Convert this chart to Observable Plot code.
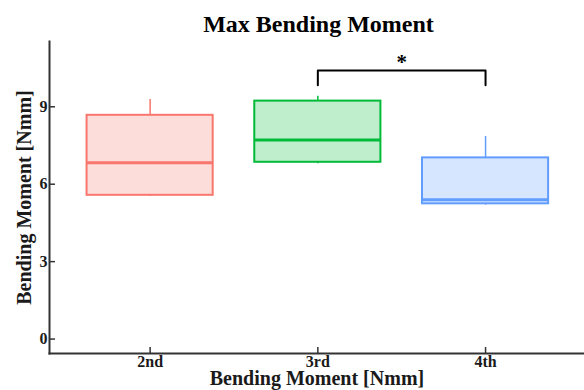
<!DOCTYPE html>
<html>
<head>
<meta charset="utf-8">
<script src="https://cdn.jsdelivr.net/npm/d3@7"></script>
<script src="https://cdn.jsdelivr.net/npm/@observablehq/plot@0.6"></script>
<style>
  html, body { margin: 0; padding: 0; background: #fff; }
  #chart svg { display: block; }
</style>
</head>
<body>
<div id="chart"></div>
<script>
// ---- data ----
const categories = ["2nd", "3rd", "4th"];
const whiskerLow = [5.52, 6.79, 5.19];
const q1 = [5.57, 6.85, 5.24];
const median = [6.83, 7.71, 5.40];
const q3 = [8.67, 9.22, 7.02];
const whiskerHigh = [9.28, 9.41, 7.85];
const colors = ["#F8766D", "#00BA38", "#619CFF"];
const yTicks = [0, 3, 6, 9];
const titleText = "Max Bending Moment";
const xLabel = "Bending Moment [Nmm]";
const yLabel = "Bending Moment [Nmm]";
const sigFrom = "3rd";
const sigTo = "4th";
const sigLabel = "*";
const bracketTop = 10.41;
const bracketLeg = 9.83;
const starY = 10.74;

// ---- derived tables ----
const rows = categories.map((c, i) => ({
  cat: c, pos: i + 1, lo: whiskerLow[i], q1: q1[i], med: median[i],
  q3: q3[i], hi: whiskerHigh[i], color: colors[i]
}));
const posOf = c => categories.indexOf(c) + 1;
const bracket = [
  {x: posOf(sigFrom), y: bracketLeg},
  {x: posOf(sigFrom), y: bracketTop},
  {x: posOf(sigTo), y: bracketTop},
  {x: posOf(sigTo), y: bracketLeg}
];
const star = [{x: (posOf(sigFrom) + posOf(sigTo)) / 2, y: starY, t: sigLabel}];
const tickPos = categories.map((c, i) => i + 1);
const half = 0.376;
const axisColor = "#333";
const textColor = "#1a1a1a";

const chart = Plot.plot({
  width: 584,
  height: 390,
  marginLeft: 49,
  marginRight: 0,
  marginTop: 41,
  marginBottom: 37,
  style: {fontFamily: "'Liberation Serif', 'Times New Roman', serif", background: "#fff", overflow: "visible"},
  x: {domain: [0.4, 3.59], label: null},
  y: {domain: [-0.56, 11.53], label: null},
  color: {type: "identity"},
  marks: [
    // whiskers
    Plot.ruleX(rows, {x: "pos", y1: "q3", y2: "hi", stroke: "color", strokeWidth: 1.5}),
    Plot.ruleX(rows, {x: "pos", y1: "lo", y2: "q1", stroke: "color", strokeWidth: 1.5}),
    // boxes
    Plot.rectY(rows, {x1: d => d.pos - half, x2: d => d.pos + half, y1: "q1", y2: "q3",
      fill: "color", fillOpacity: 0.25, stroke: "color", strokeWidth: 2}),
    // medians
    Plot.ruleY(rows, {y: "med", x1: d => d.pos - half, x2: d => d.pos + half, stroke: "color", strokeWidth: 3}),
    // significance bracket
    Plot.line(bracket, {x: "x", y: "y", stroke: "#000", strokeWidth: 2, curve: "linear"}),
    Plot.text(star, {x: "x", y: "y", text: "t", fontSize: 21, fontWeight: "bold", fill: "#000"}),
    // axis lines
    Plot.frame({anchor: "left", stroke: axisColor, strokeWidth: 2}),
    Plot.frame({anchor: "bottom", stroke: axisColor, strokeWidth: 2}),
    // ticks (inward)
    Plot.axisY(yTicks, {anchor: "left", tickSize: -6, text: null, label: null, stroke: axisColor, strokeWidth: 1.5}),
    Plot.axisY(yTicks, {anchor: "left", tickSize: 0, tickPadding: 2, label: null, fill: textColor,
      fontSize: 16, fontWeight: "bold"}),
    Plot.axisX(tickPos, {anchor: "bottom", tickSize: -6, text: null, label: null, stroke: axisColor, strokeWidth: 1.5}),
    Plot.axisX(tickPos, {anchor: "bottom", tickSize: 0, tickPadding: 2, label: null, fill: textColor,
      fontSize: 16, fontWeight: "bold", tickFormat: p => categories[p - 1]}),
    // title and axis labels
    Plot.text([titleText], {text: d => d, frameAnchor: "top", dx: 1.5, dy: -10, lineAnchor: "bottom",
      fontSize: 24, fontWeight: "bold", fill: "#000"}),
    Plot.text([xLabel], {text: d => d, frameAnchor: "bottom", dy: 31, lineAnchor: "bottom",
      fontSize: 20, fontWeight: "bold", fill: textColor}),
    Plot.text([yLabel], {text: d => d, frameAnchor: "left", dx: -25, rotate: -90, lineAnchor: "middle",
      textAnchor: "middle", fontSize: 20, fontWeight: "bold", fill: textColor})
  ]
});
document.getElementById("chart").appendChild(chart);
</script>
</body>
</html>
